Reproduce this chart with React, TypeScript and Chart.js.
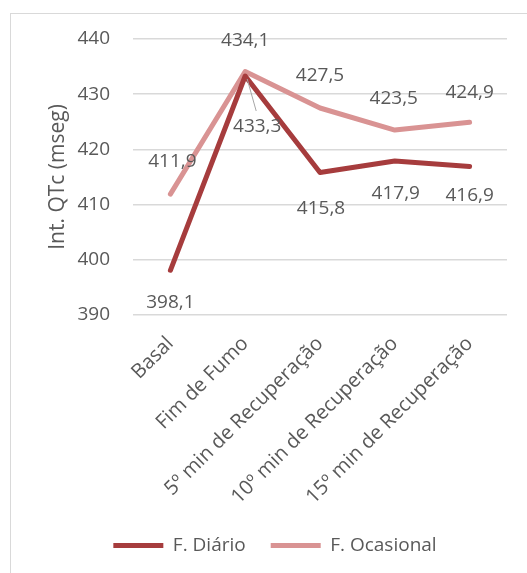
import React, { useEffect, useRef } from "react";
import { Chart, registerables } from "chart.js";

Chart.register(...registerables);

const categories = [
  "Basal",
  "Fim de Fumo",
  "5º min de Recuperação",
  "10º min de Recuperação",
  "15º min de Recuperação",
];
const diario = [398.1, 433.3, 415.8, 417.9, 416.9];
const ocasional = [411.9, 434.1, 427.5, 423.5, 424.9];
const yTicks = [390, 400, 410, 420, 430, 440];

// label offsets (px) relative to each point, kept separate from data
const diarioLabelOffsets = [
  [0, 32],
  [12, 51],
  [1, 36],
  [1, 33],
  [0, 29],
];
const ocasionalLabelOffsets = [
  [2, -33],
  [0, -31],
  [0, -32],
  [-1, -31],
  [0, -30],
];

const FONT = "'Open Sans', 'Noto Sans', sans-serif";
const TEXT = "#595959";
const DARK = "#A63C3D";
const LIGHT = "#D99393";

const fmt = (v: number) => v.toFixed(1).replace(".", ",");

const labelPlugin = {
  id: "valueLabels",
  afterDatasetsDraw(chart: any) {
    const ctx = chart.ctx;
    const offsets = [diarioLabelOffsets, ocasionalLabelOffsets];
    ctx.save();
    ctx.font = `19px ${FONT}`;
    ctx.fillStyle = TEXT;
    ctx.textAlign = "center";
    ctx.textBaseline = "middle";
    chart.data.datasets.forEach((ds: any, di: number) => {
      const meta = chart.getDatasetMeta(di);
      meta.data.forEach((pt: any, i: number) => {
        const [dx, dy] = offsets[di][i];
        const lx = pt.x + dx;
        const ly = pt.y + dy;
        if (Math.hypot(dx, dy) > 45) {
          // leader line
          ctx.save();
          ctx.strokeStyle = "#A6A6A6";
          ctx.lineWidth = 1;
          ctx.beginPath();
          ctx.moveTo(pt.x + 2, pt.y + 3);
          ctx.lineTo(lx - 1, ly - 16);
          ctx.stroke();
          ctx.restore();
        }
        ctx.fillText(fmt(ds.data[i]), lx, ly);
      });
    });
    ctx.restore();
  },
};

export default function App() {
  const ref = useRef<HTMLCanvasElement | null>(null);
  useEffect(() => {
    if (!ref.current) return;
    const chart = new Chart(ref.current, {
      type: "line",
      data: {
        labels: categories,
        datasets: [
          {
            label: "F. Diário",
            data: diario,
            borderColor: DARK,
            backgroundColor: DARK,
            borderWidth: 5,
            borderCapStyle: "round",
            borderJoinStyle: "round",
            pointRadius: 0,
            tension: 0,
          },
          {
            label: "F. Ocasional",
            data: ocasional,
            borderColor: LIGHT,
            backgroundColor: LIGHT,
            borderWidth: 5,
            borderCapStyle: "round",
            borderJoinStyle: "round",
            pointRadius: 0,
            tension: 0,
          },
        ],
      },
      options: {
        responsive: false,
        animation: false,
        layout: { padding: { left: 43, right: 20, top: 39, bottom: 8 } },
        plugins: {
          tooltip: { enabled: false },
          legend: {
            display: true,
            position: "bottom",
            labels: {
              usePointStyle: true,
              pointStyle: "line",
              pointStyleWidth: 50,
              padding: 25,
              color: TEXT,
              font: { family: FONT, size: 19 },
            },
          },
        },
        scales: {
          x: {
            type: "category",
            offset: true,
            grid: { display: false },
            border: { display: false },
            ticks: {
              minRotation: 45,
              maxRotation: 45,
              padding: 9,
              color: TEXT,
              font: { family: FONT, size: 20 },
            },
            afterFit: (s: any) => {
              s.height = 196;
            },
          },
          y: {
            min: 390,
            max: 440,
            afterBuildTicks: (s: any) => {
              s.ticks = yTicks.map((v) => ({ value: v }));
            },
            grid: { color: "#D9D9D9", lineWidth: 1.5, drawTicks: false },
            border: { display: false },
            ticks: {
              padding: 23,
              color: TEXT,
              font: { family: FONT, size: 19 },
            },
            title: {
              display: true,
              text: "Int. QTc (mseg)",
              color: TEXT,
              font: { family: FONT, size: 21 },
              padding: { top: 2, bottom: 0 },
            },
            afterFit: (s: any) => {
              s.width = 90;
            },
          },
        },
      },
      plugins: [labelPlugin],
    });
    return () => chart.destroy();
  }, []);

  return (
    <div
      style={{
        position: "fixed",
        left: 0,
        top: 0,
        width: 527,
        height: 573,
        overflow: "hidden",
        background: "#fff",
      }}
    >
      <div
        style={{
          position: "absolute",
          left: 10,
          top: 13,
          width: 560,
          height: 600,
          border: "1.5px solid #D9D9D9",
          boxSizing: "border-box",
        }}
      />
      <canvas
        ref={ref}
        width={527}
        height={573}
        style={{ position: "absolute", left: 0, top: 0, width: 527, height: 573 }}
      />
    </div>
  );
}
